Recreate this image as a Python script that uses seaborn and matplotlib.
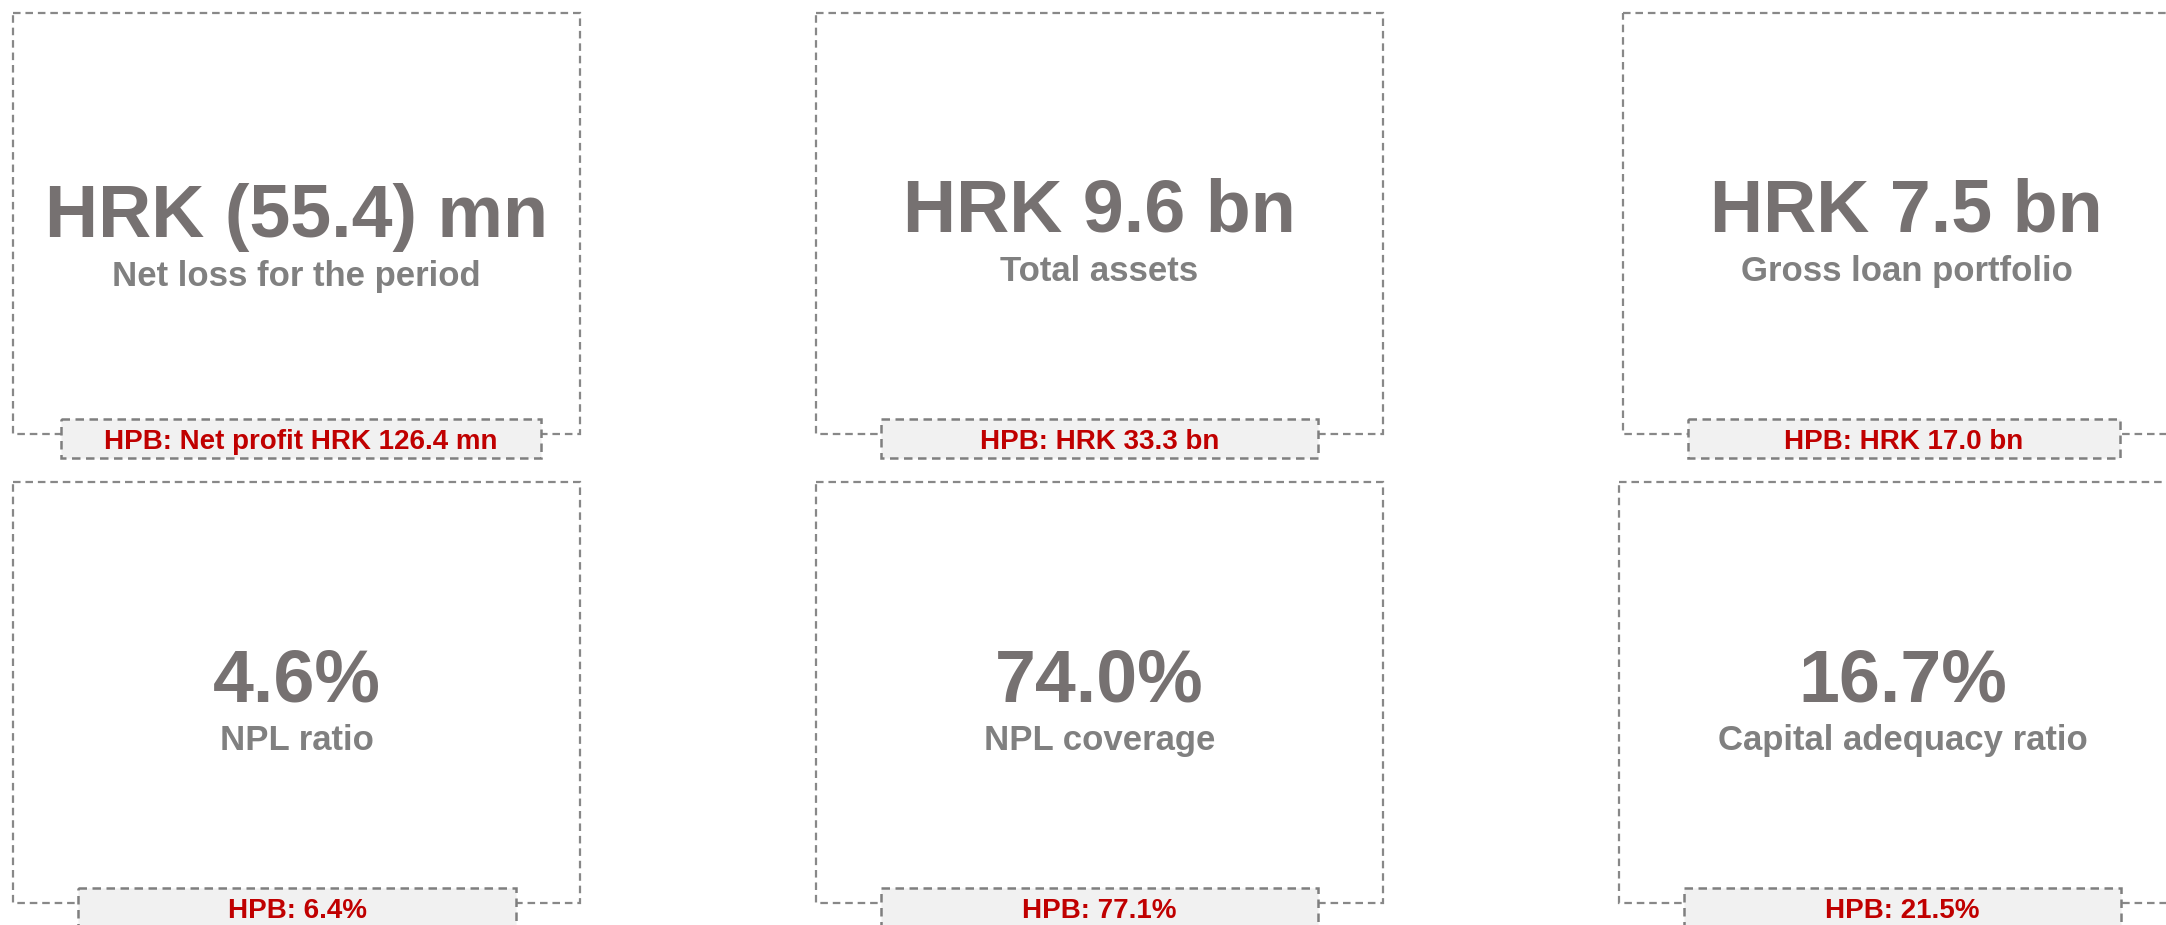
import matplotlib
matplotlib.use("Agg")
import matplotlib.pyplot as plt
from matplotlib.patches import Rectangle
import seaborn as sns

# ---- data ----
headline_values = ["HRK (55.4) mn", "HRK 9.6 bn", "HRK 7.5 bn",
                   "4.6%", "74.0%", "16.7%"]
metric_labels = ["Net loss for the period", "Total assets", "Gross loan portfolio",
                 "NPL ratio", "NPL coverage", "Capital adequacy ratio"]
hpb_labels = ["HPB: Net profit HRK 126.4 mn", "HPB: HRK 33.3 bn", "HPB: HRK 17.0 bn",
              "HPB: 6.4%", "HPB: 77.1%", "HPB: 21.5%"]

# ---- layout (pixels) ----
W, H = 2166, 925
card_left = [13, 816, 1623, 13, 816, 1619]
card_top = [13, 13, 13, 482, 482, 482]
card_w, card_h = 567, 421
sub_left = [61, 881, 1688, 78, 881, 1684]
sub_right = [541, 1318, 2120, 516, 1318, 2121]
sub_drop, sub_h = 15, 39
big_base = [237, 232, 232, 701, 701, 701]
lbl_gap = 49

sns.set_theme(style="white")
plt.rcParams['font.family'] = ['Liberation Sans', 'DejaVu Sans']

fig = plt.figure(figsize=(W / 100, H / 100), dpi=100)
ax = fig.add_axes([0, 0, 1, 1])
ax.set_xlim(0, W)
ax.set_ylim(H, 0)
ax.axis("off")

border_col = "#888888"
dash = (0, (3.4, 2.2))

for i in range(6):
    x0, y0 = card_left[i], card_top[i]
    ax.add_patch(Rectangle((x0, y0), card_w, card_h, fill=False,
                           edgecolor=border_col, lw=1.6, linestyle=dash, zorder=1))
    sy = y0 + card_h - sub_drop
    ax.add_patch(Rectangle((sub_left[i], sy), sub_right[i] - sub_left[i], sub_h,
                           facecolor="#F1F1F1", edgecolor="#7F7F7F", lw=1.8,
                           linestyle=dash, zorder=2))
    cx = x0 + card_w / 2
    ax.text(cx, big_base[i], headline_values[i], ha="center", va="baseline",
            fontsize=53, fontweight="bold", color="#767171", zorder=3)
    ax.text(cx, big_base[i] + lbl_gap, metric_labels[i], ha="center", va="baseline",
            fontsize=25, fontweight="bold", color="#808080", zorder=3)
    ax.text((sub_left[i] + sub_right[i]) / 2, sy + 30, hpb_labels[i],
            ha="center", va="baseline", fontsize=20, fontweight="bold",
            color="#C00000", zorder=3)

fig.savefig("out.png", dpi=100, facecolor="white")
